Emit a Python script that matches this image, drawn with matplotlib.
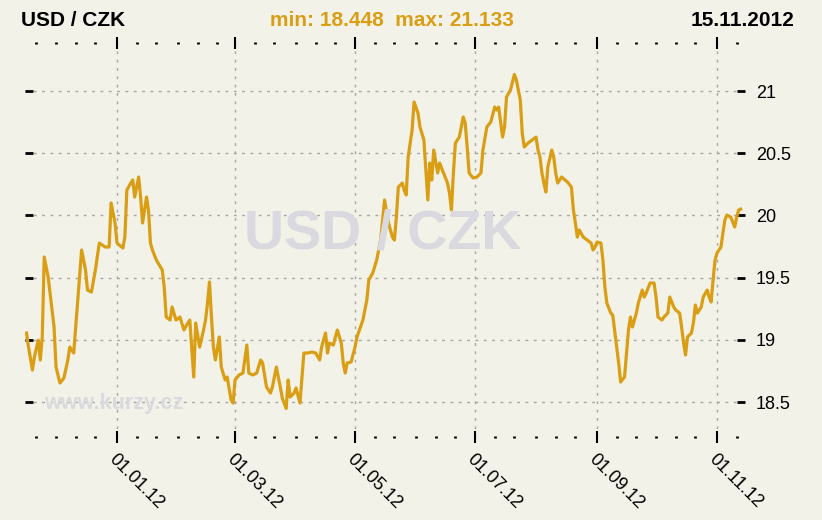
from datetime import datetime, timedelta
import matplotlib
matplotlib.use("Agg")
import matplotlib.pyplot as plt
import matplotlib.dates as mdates
from matplotlib.ticker import FixedLocator

# USD/CZK daily fixing, 15.11.2011 - 15.11.2012 (days counted from start)
start = datetime(2011, 11, 15)
days = [1, 2, 4, 5, 7, 8, 9, 10, 12, 14, 15, 16, 18, 20, 22, 23, 25, 26, 27, 29,
        31, 32, 34, 36, 38, 41, 43, 44, 46, 47, 50, 51, 52, 54, 55, 56, 58, 59, 60, 62,
        63, 64, 65, 67, 70, 71, 72, 74, 75, 77, 79, 81, 83, 84, 86, 87, 89, 91, 92, 93,
        94, 95, 96, 97, 99, 100, 102, 103, 105, 106, 107, 109, 111, 113, 114, 116, 118, 120, 121, 123,
        125, 126, 128, 130, 131, 133, 134, 135, 137, 138, 140, 142, 144, 146, 148, 150, 151, 153, 154, 155,
        157, 158, 159, 161, 162, 163, 164, 166, 168, 169, 172, 174, 175, 177, 179, 181, 182, 183, 185, 187,
        188, 189, 190, 192, 193, 194, 195, 197, 198, 200, 201, 203, 204, 205, 206, 207, 208, 210, 211, 213,
        215, 216, 217, 218, 219, 221, 223, 224, 225, 226, 228, 230, 232, 233, 235, 237, 239, 240, 241, 243,
        244, 245, 247, 249, 250, 252, 253, 254, 256, 258, 260, 261, 262, 263, 264, 265, 266, 268, 269, 270,
        271, 273, 276, 278, 279, 280, 281, 282, 284, 286, 288, 289, 290, 291, 293, 294, 295, 296, 298, 299,
        301, 302, 303, 305, 306, 307, 308, 309, 311, 312, 314, 315, 316, 318, 320, 321, 322, 324, 325, 327,
        328, 330, 331, 333, 334, 335, 336, 337, 339, 340, 341, 342, 344, 345, 347, 348, 349, 350, 351, 352,
        354, 355, 356, 357, 359, 360, 361, 362, 363, 364]
rates = [19.055, 18.942, 18.757, 18.862, 18.998, 18.838, 19.023, 19.666, 19.505, 19.240,
         19.103, 18.781, 18.653, 18.693, 18.838, 18.942, 18.894, 19.103, 19.320, 19.722,
         19.561, 19.400, 19.384, 19.561, 19.778, 19.746, 19.746, 20.100, 19.939, 19.778,
         19.738, 19.826, 20.204, 20.260, 20.285, 20.148, 20.309, 20.148, 19.939, 20.148,
         20.043, 19.778, 19.722, 19.641, 19.561, 19.424, 19.183, 19.159, 19.264, 19.159,
         19.183, 19.079, 19.135, 19.159, 18.701, 19.135, 18.942, 19.079, 19.159, 19.296,
         19.465, 19.183, 18.942, 18.838, 19.023, 18.781, 18.677, 18.701, 18.516, 18.492,
         18.677, 18.717, 18.733, 18.958, 18.733, 18.717, 18.733, 18.838, 18.814, 18.621,
         18.572, 18.621, 18.781, 18.621, 18.532, 18.448, 18.677, 18.540, 18.572, 18.613,
         18.492, 18.894, 18.894, 18.902, 18.894, 18.838, 18.942, 19.055, 18.894, 18.974,
         18.958, 19.023, 19.079, 18.974, 18.814, 18.733, 18.814, 18.822, 18.942, 19.023,
         19.159, 19.320, 19.481, 19.537, 19.641, 19.802, 19.963, 20.124, 19.939, 19.826,
         19.802, 19.987, 20.228, 20.260, 20.204, 20.164, 20.469, 20.686, 20.912, 20.823,
         20.711, 20.606, 20.365, 20.124, 20.421, 20.285, 20.526, 20.341, 20.421, 20.341,
         20.260, 20.180, 20.043, 20.341, 20.582, 20.630, 20.791, 20.743, 20.550, 20.341,
         20.301, 20.309, 20.341, 20.526, 20.711, 20.751, 20.871, 20.847, 20.871, 20.630,
         20.711, 20.952, 21.008, 21.133, 21.088, 20.928, 20.662, 20.550, 20.582, 20.606,
         20.630, 20.526, 20.469, 20.341, 20.260, 20.188, 20.389, 20.526, 20.469, 20.341,
         20.260, 20.309, 20.268, 20.228, 20.043, 19.939, 19.826, 19.883, 19.826, 19.802,
         19.778, 19.722, 19.746, 19.786, 19.778, 19.641, 19.424, 19.296, 19.215, 19.199,
         18.942, 18.814, 18.661, 18.701, 18.894, 19.079, 19.183, 19.103, 19.215, 19.296,
         19.400, 19.344, 19.376, 19.457, 19.457, 19.344, 19.183, 19.159, 19.183, 19.215,
         19.344, 19.264, 19.240, 19.215, 19.103, 18.974, 18.878, 19.023, 19.055, 19.135,
         19.280, 19.215, 19.264, 19.344, 19.400, 19.344, 19.304, 19.481, 19.641, 19.698,
         19.746, 19.859, 19.963, 20.003, 19.987, 19.947, 19.907, 19.987, 20.043, 20.051]
yticks = [18.5, 19, 19.5, 20, 20.5, 21]
ytick_labels = ["18.5", "19", "19.5", "20", "20.5", "21"]

dates = [start + timedelta(days=d) for d in days]

bg = "#F2F2E8"
gold = "#DA9E14"
plt.rcParams['font.family'] = ['Liberation Sans', 'DejaVu Sans']

fig = plt.figure(figsize=(8.22, 5.2), dpi=100, facecolor=bg)
ax = fig.add_axes([24.55 / 822, 83 / 520, 720 / 822, 394 / 520], facecolor=bg)

# watermarks
fig.text(383 / 822, 1 - 235 / 520, "USD / CZK", fontsize=40, fontweight="bold",
         color="#D9D9DF", ha="center", va="center", zorder=0)
fig.text(114 / 822, 1 - 404 / 520, "www.kurzy.cz", fontsize=15.5, fontweight="bold",
         color="#DADADE", ha="center", va="center", zorder=0)

ax.plot(dates, rates, color=gold, lw=2.3, zorder=3)

ax.set_xlim(start, start + timedelta(days=366))
ax.set_ylim(18.219, 21.386)

ax.xaxis.set_major_locator(mdates.MonthLocator(bymonth=[1, 3, 5, 7, 9, 11]))
ax.xaxis.set_minor_locator(mdates.DayLocator(bymonthday=[1, 11, 21]))
ax.xaxis.set_major_formatter(mdates.DateFormatter("%d.%m.%y"))
ax.yaxis.set_major_locator(FixedLocator(yticks))
ax.set_yticklabels(ytick_labels)

for s in ax.spines.values():
    s.set_visible(False)

ax.grid(True, which="major", color="#A5A5A5", lw=1, linestyle=(0, (2, 4)))
ax.tick_params(axis="x", which="major", top=True, direction="inout", length=8, width=1.5,
               pad=6, labelsize=13)
ax.tick_params(axis="x", which="minor", top=True, direction="inout", length=2, width=2)
ax.tick_params(axis="y", which="major", left=True, right=True, labelleft=False, labelright=True,
               direction="in", length=6, width=2, pad=8, labelsize=13)
for lbl in ax.get_xticklabels():
    lbl.set_rotation(-45)
    lbl.set_ha("left")
    lbl.set_va("top")
    lbl.set_rotation_mode("anchor")

fig.text(21 / 822, 1 - 20 / 520, "USD / CZK", fontsize=15, fontweight="bold",
         ha="left", va="center")
fig.text(392 / 822, 1 - 20 / 520, "min: 18.448  max: 21.133", fontsize=15, fontweight="bold",
         color=gold, ha="center", va="center")
fig.text(794 / 822, 1 - 20 / 520, "15.11.2012", fontsize=15, fontweight="bold",
         ha="right", va="center")

fig.savefig("out.png", dpi=100, facecolor=bg)
